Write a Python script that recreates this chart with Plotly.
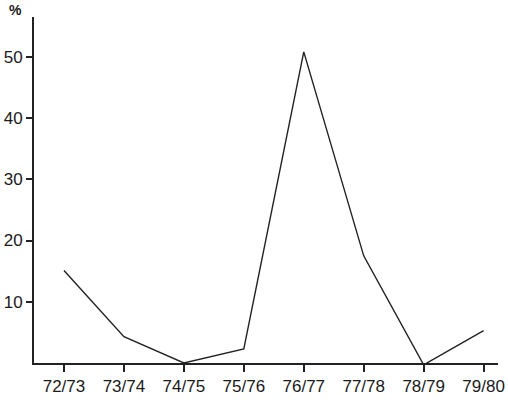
import plotly.graph_objects as go

seasons = ["72/73", "73/74", "74/75", "75/76", "76/77", "77/78", "78/79", "79/80"]
percent = [15.1, 4.3, 0.0, 2.3, 50.8, 17.5, -0.3, 5.3]
y_ticks = [10, 20, 30, 40, 50]

fig = go.Figure()
fig.add_trace(go.Scatter(
    x=list(range(len(seasons))), y=percent, mode="lines",
    line=dict(color="#222222", width=1.4), hoverinfo="skip", cliponaxis=False,
))

fig.update_layout(
    width=508, height=402,
    margin=dict(l=34, r=10, t=17, b=39),
    paper_bgcolor="white", plot_bgcolor="white",
    showlegend=False,
    font=dict(family="Liberation Sans, Arial, sans-serif", size=17, color="#1a1a1a"),
    xaxis=dict(
        range=[-0.5, 7.24], tickmode="array", automargin=False,
        tickvals=list(range(len(seasons))), ticktext=seasons,
        showgrid=False, zeroline=False, showline=True, linecolor="#222222", linewidth=2,
        ticks="outside", ticklen=7, tickwidth=1.5, tickcolor="#222222",
        tickfont=dict(size=17),
    ),
    yaxis=dict(
        range=[0, 56.5], tickmode="array", tickvals=y_ticks, automargin=False,
        ticktext=[str(v) for v in y_ticks],
        showgrid=False, zeroline=False, showline=True, linecolor="#222222", linewidth=2,
        ticks="outside", ticklen=6, tickwidth=1.5, tickcolor="#222222",
        tickfont=dict(size=17),
    ),
    annotations=[dict(
        text="<b>%</b>", x=0, y=1.0, xref="paper", yref="paper",
        xanchor="right", yanchor="bottom", xshift=-10, yshift=-3,
        showarrow=False, font=dict(size=14),
    )],
)

fig.write_html("out.html", config={"displayModeBar": False},
               post_script="document.body.style.margin='0';")
